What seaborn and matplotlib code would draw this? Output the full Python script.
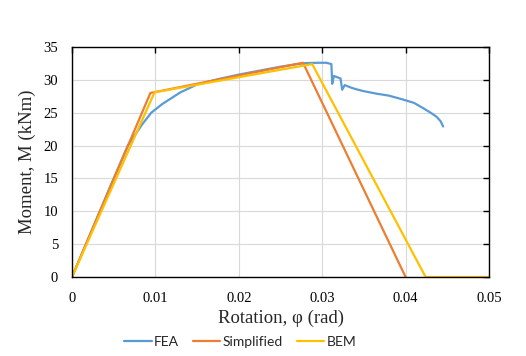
import numpy as np
import pandas as pd
import matplotlib
matplotlib.use("Agg")
import matplotlib.pyplot as plt
import seaborn as sns

# curve data
fea_rot = [0, 0.0025, 0.005, 0.0067, 0.0084, 0.0095, 0.0108, 0.0130, 0.0150, 0.0175,
           0.0200, 0.0225, 0.0250, 0.0270, 0.0280, 0.0295, 0.0305, 0.0311, 0.0312,
           0.0314, 0.0322, 0.0324, 0.0327, 0.0335, 0.0340, 0.0349, 0.0365, 0.0380,
           0.0397, 0.0410, 0.0421, 0.0430, 0.0437, 0.0442, 0.0445]
fea_mom = [0, 7.5, 15.0, 20.0, 23.2, 25.0, 26.3, 28.1, 29.3, 30.1,
           30.8, 31.4, 32.0, 32.4, 32.55, 32.6, 32.6, 32.4, 29.4,
           30.6, 30.2, 28.5, 29.2, 28.8, 28.6, 28.3, 27.9, 27.6,
           27.0, 26.5, 25.7, 25.0, 24.4, 23.7, 22.9]

simp_rot = [0, 0.0094, 0.0277, 0.0400]
simp_mom = [0, 28.0, 32.6, 0]

bem_rot = [0, 0.0099, 0.0288, 0.0424, 0.0500]
bem_mom = [0, 28.1, 32.4, 0, 0]

series_names = ["FEA", "Simplified", "BEM"]
series_colors = ["#5B9BD5", "#ED7D31", "#FFC000"]

x_ticks = [0, 0.01, 0.02, 0.03, 0.04, 0.05]
x_ticklabels = ["0", "0.01", "0.02", "0.03", "0.04", "0.05"]
y_ticks = [0, 5, 10, 15, 20, 25, 30, 35]

df = pd.concat([
    pd.DataFrame({"rot": fea_rot, "mom": fea_mom, "series": "FEA"}),
    pd.DataFrame({"rot": simp_rot, "mom": simp_mom, "series": "Simplified"}),
    pd.DataFrame({"rot": bem_rot, "mom": bem_mom, "series": "BEM"}),
], ignore_index=True)

sns.set_style("white")
serif = ["Liberation Serif", "DejaVu Serif"]
plt.rcParams["font.family"] = serif

fig = plt.figure(figsize=(5.26, 3.56), dpi=100)
ax = fig.add_axes([72 / 526, 1 - 277 / 356, (489 - 72) / 526, (277 - 47) / 356])

sns.lineplot(data=df, x="rot", y="mom", hue="series", hue_order=series_names,
             palette=series_colors, sort=False, estimator=None, linewidth=1.6,
             ax=ax, legend=False)

ax.set_xlim(0, 0.05)
ax.set_ylim(0, 35)
ax.set_xticks(x_ticks)
ax.set_xticklabels(x_ticklabels, fontfamily=serif)
ax.set_yticks(y_ticks)
ax.set_yticklabels([str(v) for v in y_ticks], fontfamily=serif)
ax.grid(True, color="#D9D9D9", linewidth=0.8)
ax.set_axisbelow(True)
for sp in ax.spines.values():
    sp.set_color("black")
    sp.set_linewidth(1.0)
    sp.set_visible(True)
ax.tick_params(direction="in", length=4, width=1, top=True, right=True,
               labelsize=10.5, colors="black")
ax.tick_params(axis="x", pad=11)
ax.tick_params(axis="y", pad=10)

ax.set_xlabel("Rotation, φ (rad)", fontsize=13.5, labelpad=3)
ax.set_ylabel("Moment, M (kNm)", fontsize=13.5, labelpad=5)

handles = [plt.Line2D([], [], color=c, linewidth=1.6) for c in series_colors]
fig.legend(handles, series_names, loc="center", bbox_to_anchor=(240 / 526, 1 - 342 / 356),
           ncol=3, frameon=False, handlelength=2.0, handletextpad=0.15,
           columnspacing=1.0, prop={"family": "Lato", "size": 10})

fig.savefig("out.png", dpi=100)
